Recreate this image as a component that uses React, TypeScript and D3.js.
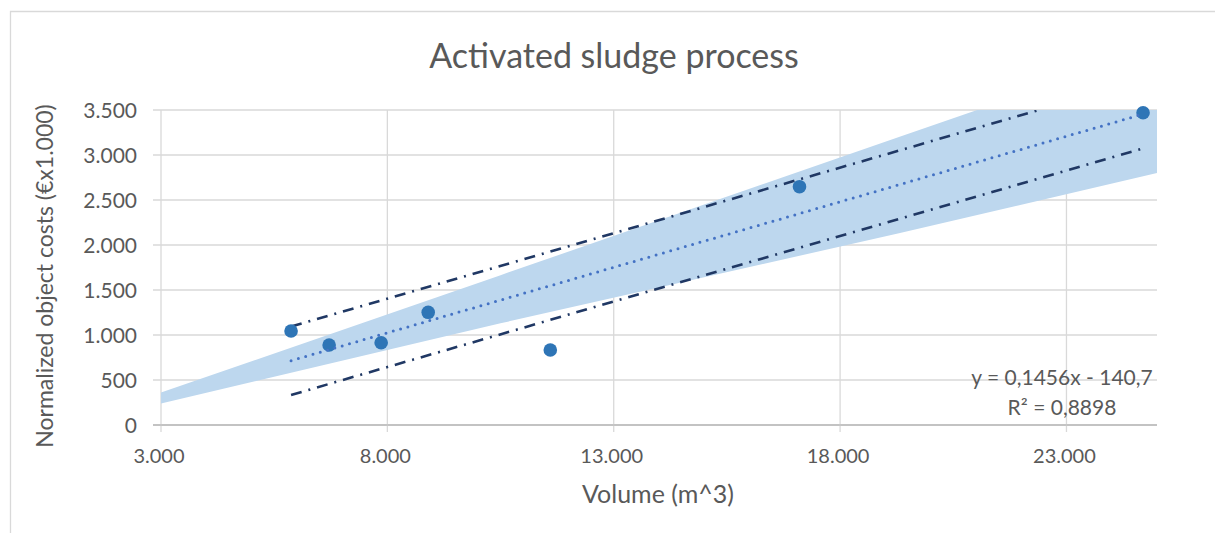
import React, { useEffect, useRef } from 'react';
import * as d3 from 'd3';

// measured points
const volume = [5873, 6714, 7863, 8902, 11599, 17103, 24692];
const cost = [1044, 889, 914, 1252, 833, 2648, 3470];

// linear trendline as printed on the chart
const trendSlope = 0.1456;
const trendIntercept = -140.7;
const r2 = 0.8898;

// dash-dot limit lines (end points)
const limitX = [5873, 24692];
const upperLimit = [1094, 3834];
const lowerLimit = [334, 3074];

// shaded band
const bandX = [3000, 10500, 19300, 25000];
const bandUpper = [360, 1665, 3200, 4190];
const bandLower = [240, 1130, 2130, 2800];

const xTicks = [3000, 8000, 13000, 18000, 23000];
const yTicks = [0, 500, 1000, 1500, 2000, 2500, 3000, 3500];

const W = 1215, H = 533;
const left = 161, right = 1157, top = 110, bottom = 425;
const FONT = 'Lato, "Open Sans", sans-serif';
const TXT = '#595959';

const nl = d3.formatLocale({ decimal: ',', thousands: '.', grouping: [3], currency: ['€', ''] });
const fmtThousands = nl.format(',d');

export default function App() {
  const ref = useRef<SVGSVGElement>(null);

  useEffect(() => {
    const svg = d3.select(ref.current);
    svg.selectAll('*').remove();

    const x = d3.scaleLinear().domain([3000, 25000]).range([left, right]);
    const y = d3.scaleLinear().domain([0, 3500]).range([bottom, top]);

    svg.append('defs').append('clipPath').attr('id', 'plot')
      .append('rect').attr('x', left).attr('y', top)
      .attr('width', right - left).attr('height', bottom - top);

    // chart border (only top/left visible)
    svg.append('path')
      .attr('d', `M10.5,${H}V11.5H${W}`)
      .attr('fill', 'none').attr('stroke', '#d9d9d9').attr('stroke-width', 1.3);

    // gridlines
    svg.append('g').selectAll('line').data(yTicks).enter().append('line')
      .attr('x1', left - 8).attr('x2', right)
      .attr('y1', d => y(d)).attr('y2', d => y(d))
      .attr('stroke', d => d === 0 ? '#bfbfbf' : '#d9d9d9').attr('stroke-width', 1.3);
    svg.append('g').selectAll('line').data(xTicks).enter().append('line')
      .attr('x1', d => x(d)).attr('x2', d => x(d))
      .attr('y1', top).attr('y2', bottom + 7)
      .attr('stroke', '#d9d9d9').attr('stroke-width', 1.3);

    const plot = svg.append('g').attr('clip-path', 'url(#plot)');

    // band
    const area = d3.area<number>()
      .x((d, i) => x(bandX[i]))
      .y0((d, i) => y(bandLower[i]))
      .y1(d => y(d));
    plot.append('path').datum(bandUpper)
      .attr('d', area)
      .attr('fill', '#bdd7ee');

    // x axis line drawn over band
    svg.append('line')
      .attr('x1', left - 8).attr('x2', right).attr('y1', bottom).attr('y2', bottom)
      .attr('stroke', '#bfbfbf').attr('stroke-width', 1.3);

    // dash-dot limits
    const lim = d3.line<number>().x((d, i) => x(limitX[i])).y(d => y(d));
    [upperLimit, lowerLimit].forEach(s => {
      plot.append('path').datum(s)
        .attr('d', lim)
        .attr('fill', 'none').attr('stroke', '#203864').attr('stroke-width', 2.6)
        .attr('stroke-dasharray', '11 7 2 7');
    });

    // points
    svg.append('g').selectAll('circle').data(volume).enter().append('circle')
      .attr('cx', d => x(d)).attr('cy', (d, i) => y(cost[i]))
      .attr('r', 6.8)
      .attr('fill', '#2e75b6');

    // trendline
    const tx = d3.extent(volume) as [number, number];
    svg.append('line')
      .attr('x1', x(tx[0])).attr('y1', y(trendSlope * tx[0] + trendIntercept))
      .attr('x2', x(tx[1])).attr('y2', y(trendSlope * tx[1] + trendIntercept))
      .attr('stroke', '#4472c4').attr('stroke-width', 3)
      .attr('stroke-linecap', 'round').attr('stroke-dasharray', '0 7.6');

    // tick labels
    svg.append('g').selectAll('text').data(yTicks).enter().append('text')
      .attr('x', 137).attr('y', d => y(d) + 7.5)
      .attr('text-anchor', 'end')
      .style('font-family', FONT).style('font-size', '21px').attr('fill', TXT)
      .text(d => fmtThousands(d));
    svg.append('g').selectAll('text').data(xTicks).enter().append('text')
      .attr('x', d => x(d) - 2).attr('y', 463)
      .attr('text-anchor', 'middle')
      .style('font-family', FONT).style('font-size', '20px').attr('fill', TXT)
      .text(d => fmtThousands(d));

    // titles
    svg.append('text')
      .attr('x', 614).attr('y', 68).attr('text-anchor', 'middle')
      .style('font-family', FONT).style('font-size', '34px').attr('fill', TXT)
      .text('Activated sludge process');
    svg.append('text')
      .attr('x', 658).attr('y', 503).attr('text-anchor', 'middle')
      .style('font-family', FONT).style('font-size', '25px').attr('fill', TXT)
      .text('Volume (m^3)');
    svg.append('text')
      .attr('transform', 'translate(53,276) rotate(-90)').attr('text-anchor', 'middle')
      .style('font-family', FONT).style('font-size', '23px').attr('fill', TXT)
      .text('Normalized object costs (€x1.000)');

    // equation
    const eq = svg.append('text').attr('text-anchor', 'middle')
      .style('font-family', FONT).style('font-size', '21px').attr('fill', TXT);
    eq.append('tspan').attr('x', 1062).attr('y', 385)
      .text(`y = ${nl.format('.4f')(trendSlope)}x - ${nl.format('.1f')(-trendIntercept)}`);
    eq.append('tspan').attr('x', 1062).attr('y', 415)
      .text(`R² = ${nl.format('.4f')(r2)}`);
  }, []);

  return (
    <svg ref={ref} width={W} height={H}
      style={{ position: 'absolute', left: 0, top: 0, background: '#fff' }} />
  );
}
